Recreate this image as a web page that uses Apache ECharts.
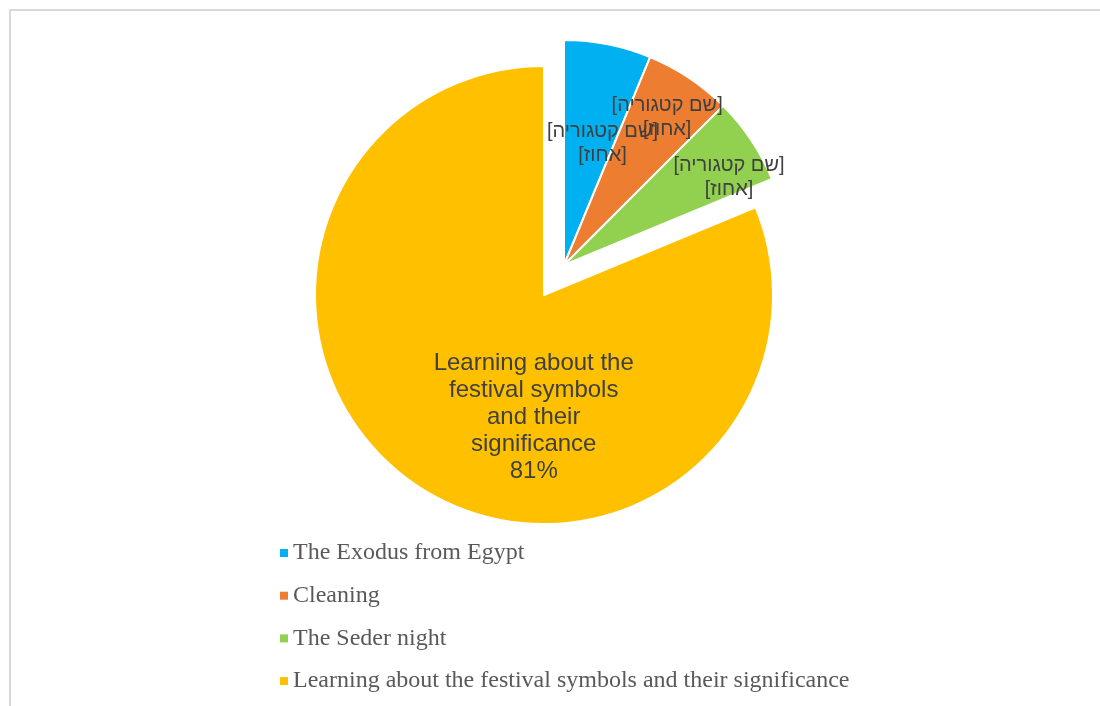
<!DOCTYPE html>
<html>
<head>
<meta charset="utf-8">
<title>Pesach topics</title>
<script src="https://cdn.jsdelivr.net/npm/echarts@6/dist/echarts.min.js"></script>
<style>
  html, body { margin: 0; padding: 0; background: #fff; }
  #chart { width: 1100px; height: 706px; }
</style>
</head>
<body>
<div id="chart"></div>
<script>
// data (16 answers: 1, 1, 1, 13)
const categories = ['The Exodus from Egypt', 'Cleaning', 'The Seder night', 'Learning about the festival symbols and their significance']
const values = [1, 1, 1, 13]
const colors = ['#00b0f0', '#ed7d31', '#92d050', '#ffc000']
// the small slices keep the placeholder text of the original labels
const smallLabel = '[שם קטגוריה]\n[אחוז]'
const bigLabel = 'Learning about the\nfestival symbols\nand their\nsignificance'

const labelFont = {
  fontFamily: 'Liberation Sans, Arial, sans-serif',
  color: '#404040'
}

// small slices are pulled out together, so they get their own pie
const smallOffsets = [[16, -8], [39, -51], [69, -23]]
const smallSum = values.slice(0, 3).reduce((a, b) => a + b, 0)

const smallData = categories.slice(0, 3).map((name, i) => ({
  name,
  value: values[i],
  itemStyle: { color: colors[i] },
  label: { offset: smallOffsets[i] }
}))
smallData.push({
  name: '',
  value: values[3],
  itemStyle: { color: 'transparent', borderWidth: 0 },
  label: { show: false }
})

const bigData = [
  {
    name: '',
    value: smallSum,
    itemStyle: { color: 'transparent', borderWidth: 0 },
    label: { show: false }
  },
  {
    name: categories[3],
    value: values[3],
    itemStyle: { color: colors[3] },
    label: { offset: [55, 25] }
  }
]

const chart = echarts.init(document.getElementById('chart'))

chart.setOption({
  animation: false,
  graphic: [{
    type: 'rect',
    shape: { x: 10, y: 10, width: 1200, height: 800 },
    style: { fill: 'none', stroke: '#d9d9d9', lineWidth: 2 },
    silent: true
  }],
  legend: {
    orient: 'vertical',
    left: 280,
    top: 541,
    padding: 0,
    itemWidth: 8,
    itemHeight: 8,
    itemGap: 18.7,
    itemTextGap: 11,
    icon: 'rect',
    itemStyle: { borderWidth: 0 },
    data: categories,
    textStyle: {
      fontFamily: 'Liberation Serif, Times New Roman, serif',
      fontSize: 24,
      lineHeight: 24,
      color: '#595959'
    }
  },
  color: colors,
  series: [
    {
      name: 'main',
      type: 'pie',
      center: [544, 295],
      radius: 229,
      startAngle: 90,
      percentPrecision: 0,
      silent: true,
      emphasis: { disabled: true },
      itemStyle: { borderColor: '#fff', borderWidth: 2 },
      label: {
        position: 'inside',
        formatter: p => bigLabel + '\n' + p.percent + '%',
        fontSize: 24,
        lineHeight: 27,
        ...labelFont
      },
      labelLine: { show: false },
      labelLayout: { hideOverlap: false },
      data: bigData
    },
    {
      name: 'pulled',
      type: 'pie',
      center: [564, 265],
      radius: 225,
      startAngle: 90,
      silent: true,
      emphasis: { disabled: true },
      itemStyle: { borderColor: '#fff', borderWidth: 2 },
      label: {
        position: 'inside',
        formatter: () => smallLabel,
        fontSize: 20,
        lineHeight: 24,
        ...labelFont
      },
      labelLine: { show: false },
      labelLayout: { hideOverlap: false },
      data: smallData
    }
  ]
})
</script>
</body>
</html>
